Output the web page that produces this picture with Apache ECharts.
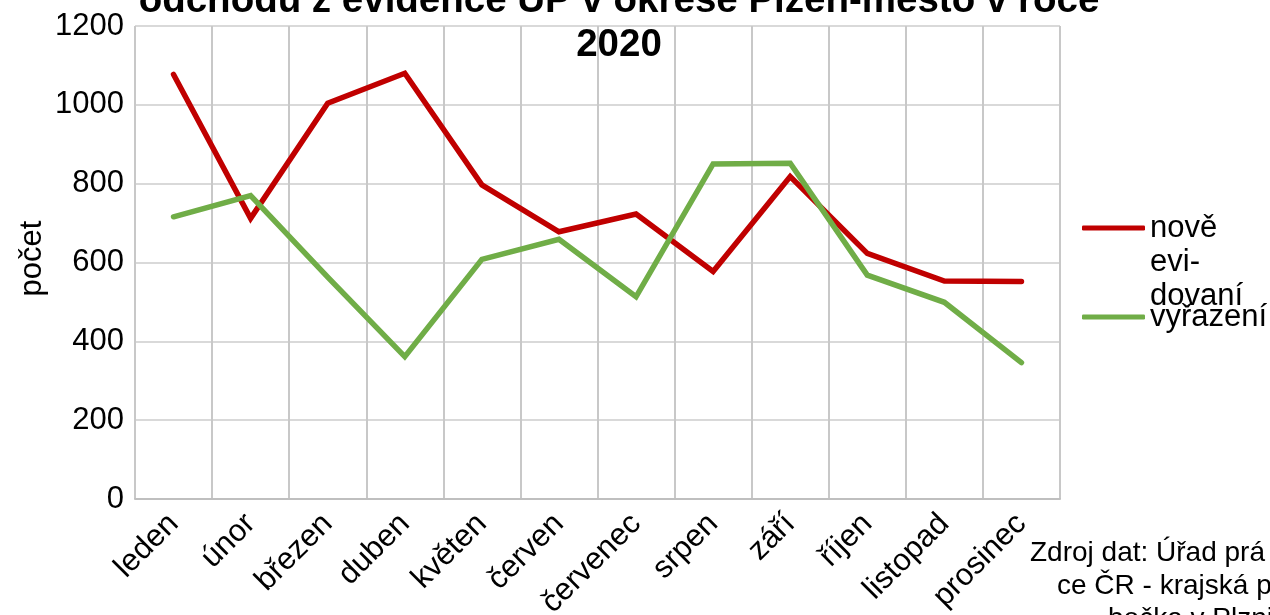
<!DOCTYPE html>
<html>
<head>
<meta charset="utf-8">
<script src="https://cdn.jsdelivr.net/npm/echarts@6/dist/echarts.min.js"></script>
<style>
	html, body { margin: 0; padding: 0; background: #fff; }
	#chart { width: 1270px; height: 615px; }
</style>
</head>
<body>
<div id="chart"></div>
<script>
// data
var mesice = ['leden', 'únor', 'březen', 'duben', 'květen', 'červen', 'červenec', 'srpen', 'září', 'říjen', 'listopad', 'prosinec'];
var noveEvidovani = [1077, 712, 1004, 1080, 797, 678, 723, 577, 818, 623, 553, 552];
var vyrazeni = [716, 770, 563, 361, 608, 659, 513, 850, 852, 568, 499, 346];
var titulek = ['odchodu z evidence ÚP v okrese Plzeň-město v roce', '2020'];
var zdroj = ['Zdroj dat: Úřad prá', 'ce ČR - krajská po', 'bočka v Plzni'];

var FONT = 'Arial, "Liberation Sans", sans-serif';
var chart = echarts.init(document.getElementById('chart'));

var option = {
	backgroundColor: '#fff',
	animation: false,
	textStyle: { fontFamily: FONT, color: '#000' },
	grid: { left: 135, right: 210, top: 26, bottom: 116, outerBoundsMode: 'none', containLabel: false },
	legend: [
		{
			data: ['nově evidovaní'],
			orient: 'vertical',
			left: 1082,
			top: 143,
			padding: 0,
			icon: 'roundRect',
			itemWidth: 63,
			itemHeight: 5,
			// prázdné řádky nahoře, aby první řádek textu byl u čáry
			formatter: function () { return '\n\nnově\nevi-\ndovaní'; },
			textStyle: { fontFamily: FONT, fontSize: 31, color: '#000', lineHeight: 34 }
		},
		{
			data: ['vyřazení'],
			orient: 'vertical',
			left: 1082,
			top: 300,
			padding: 0,
			icon: 'roundRect',
			itemWidth: 63,
			itemHeight: 5,
			textStyle: { fontFamily: FONT, fontSize: 31, color: '#000', lineHeight: 34 }
		}
	],
	xAxis: {
		type: 'category',
		data: mesice,
		boundaryGap: true,
		axisLine: { lineStyle: { color: '#bfbfbf', width: 2 } },
		axisTick: { show: false },
		axisLabel: { rotate: 45, fontSize: 31, color: '#000', margin: 20, fontFamily: FONT, interval: 0 },
		splitLine: { show: true, interval: 0, lineStyle: { color: '#c8c8c8', width: 2 } }
	},
	yAxis: {
		type: 'value',
		min: 0,
		max: 1200,
		interval: 200,
		name: 'počet',
		nameLocation: 'middle',
		nameRotate: 90,
		nameGap: 87,
		nameMoveOverlap: false,
		nameTextStyle: { fontSize: 31, color: '#000', fontFamily: FONT, padding: [0, 0, 0, 8] },
		axisLine: { show: false },
		axisTick: { show: false },
		axisLabel: { fontSize: 31, color: '#000', margin: 11, fontFamily: FONT, formatter: function (v) { return String(v); } },
		splitLine: { lineStyle: { color: '#d9d9d9', width: 2 } }
	},
	series: [
		{
			name: 'nově evidovaní',
			type: 'line',
			data: noveEvidovani,
			symbol: 'none',
			color: '#c00000',
			lineStyle: { width: 5.5, color: '#c00000', cap: 'round', join: 'miter' }
		},
		{
			name: 'vyřazení',
			type: 'line',
			data: vyrazeni,
			symbol: 'none',
			color: '#70ad47',
			lineStyle: { width: 5.5, color: '#70ad47', cap: 'round', join: 'miter' }
		}
	],
	graphic: [
		{
			type: 'text',
			x: 619,
			y: -21,
			z: 100,
			style: {
				text: titulek.join('\n'),
				fontFamily: FONT,
				fontSize: 38.5,
				fontWeight: 'bold',
				lineHeight: 44,
				fill: '#000',
				align: 'center',
				verticalAlign: 'top'
			}
		},
		{ type: 'text', x: 1030, y: 567, style: { text: zdroj[0], fontFamily: FONT, fontSize: 28, fill: '#000', align: 'left', verticalAlign: 'bottom' } },
		{ type: 'text', x: 1057, y: 600, style: { text: zdroj[1], fontFamily: FONT, fontSize: 28, fill: '#000', align: 'left', verticalAlign: 'bottom' } },
		{ type: 'text', x: 1108, y: 633, style: { text: zdroj[2], fontFamily: FONT, fontSize: 28, fill: '#000', align: 'left', verticalAlign: 'bottom' } }
	]
};
chart.setOption(option);
</script>
</body>
</html>
